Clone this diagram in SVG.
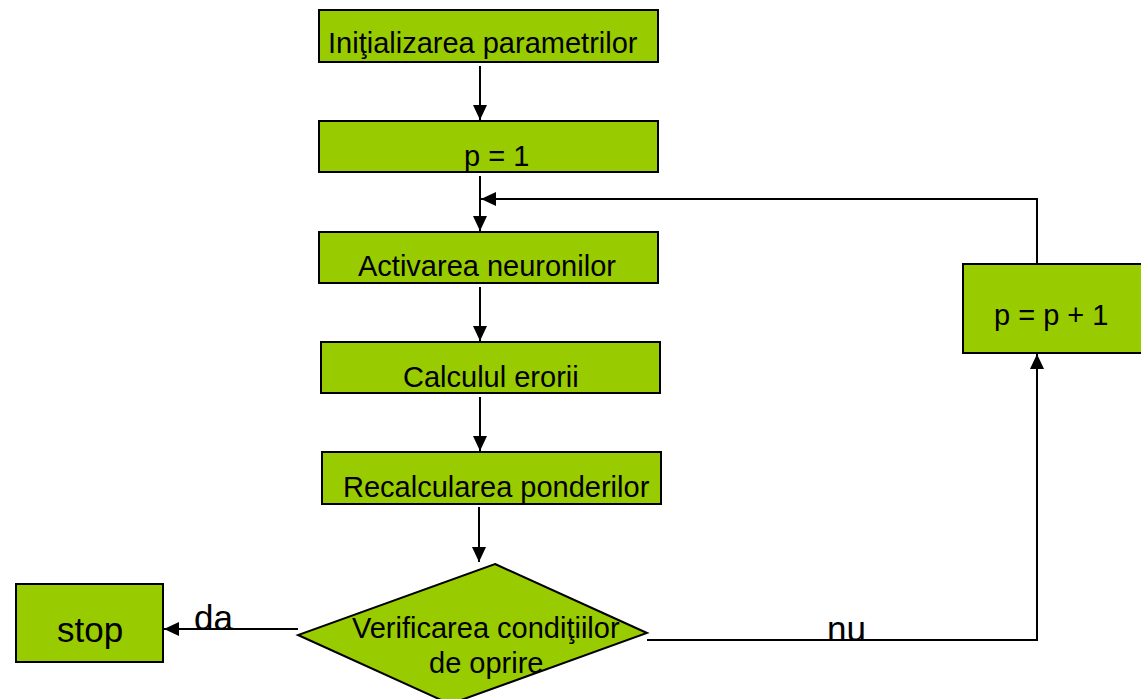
<svg xmlns="http://www.w3.org/2000/svg" width="1141" height="699" viewBox="0 0 1141 699">
<style>
.n{fill:#99CC00;stroke:#000;stroke-width:2}
.t{font-family:"Liberation Sans",Arial,sans-serif;font-size:29px;fill:#000}
.b{font-family:"Liberation Sans",Arial,sans-serif;font-size:35px;fill:#000}
.c{fill:none;stroke:#000;stroke-width:2}
</style>
<defs>
<marker id="ah" markerUnits="userSpaceOnUse" markerWidth="16" markerHeight="16" viewBox="0 0 16 16" refX="15" refY="8" orient="auto">
<path d="M0,1 L15,8 L0,15 Z" fill="#000"/>
</marker>
</defs>
<rect x="0" y="0" width="1141" height="699" fill="#fff"/>
<g id="connectors">
<line class="c" x1="480" y1="66" x2="480" y2="120" marker-end="url(#ah)"/>
<line class="c" x1="480" y1="176" x2="480" y2="231" marker-end="url(#ah)"/>
<line class="c" x1="480" y1="287" x2="480" y2="341" marker-end="url(#ah)"/>
<line class="c" x1="480" y1="397" x2="480" y2="451" marker-end="url(#ah)"/>
<line class="c" x1="479" y1="507" x2="479" y2="562" marker-end="url(#ah)"/>
<line class="c" x1="298" y1="629" x2="164" y2="629" marker-end="url(#ah)"/>
<polyline class="c" points="647,640 1037,640 1037,354" marker-end="url(#ah)"/>
<polyline class="c" points="1037,264 1037,199 481,199" marker-end="url(#ah)"/>
<text class="b" x="194" y="630">da</text>
<text class="b" x="827" y="641">nu</text>
</g>
<g id="init">
<rect class="n" x="319" y="10" width="339" height="52"/>
<text class="t" x="328" y="53">Iniţializarea parametrilor</text>
</g>
<g id="p1">
<rect class="n" x="319" y="121" width="339" height="51"/>
<text class="t" x="464" y="166">p = 1</text>
</g>
<g id="activ">
<rect class="n" x="319" y="232" width="339" height="51"/>
<text class="t" x="358" y="276">Activarea neuronilor</text>
</g>
<g id="calc">
<rect class="n" x="321" y="342" width="339" height="51"/>
<text class="t" x="403" y="387">Calculul erorii</text>
</g>
<g id="recalc">
<rect class="n" x="322" y="452" width="339" height="52"/>
<text class="t" x="343" y="497">Recalcularea ponderilor</text>
</g>
<g id="verif">
<polygon class="n" points="495,564 647,633 450,704 298,635"/>
<text class="t" x="352" y="638">Verificarea condiţiilor</text>
<text class="t" x="429" y="673">de oprire</text>
</g>
<g id="stop">
<rect class="n" x="16" y="584" width="147" height="78"/>
<text class="b" x="57" y="642">stop</text>
</g>
<g id="incr">
<rect class="n" x="963" y="264" width="180" height="89"/>
<text class="t" x="994" y="325">p = p + 1</text>
</g>
</svg>
